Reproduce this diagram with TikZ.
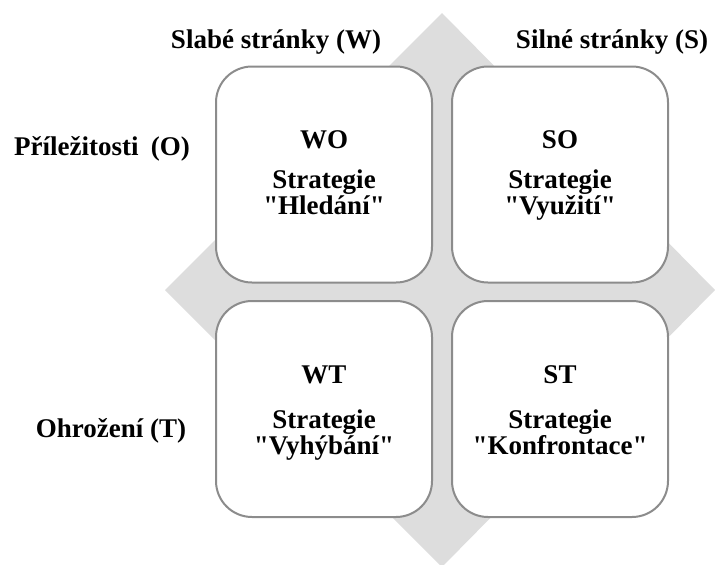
\documentclass[tikz,border=0pt]{standalone}
\usepackage{fontspec}
\setmainfont{Liberation Serif}[Ligatures=TeXOff]
\definecolor{diamondgray}{RGB}{221,221,221}
\definecolor{boxgray}{RGB}{140,140,140}
\begin{document}
\begin{tikzpicture}[x=1pt,y=-1pt,
  lbl/.style={font=\fontsize{27}{23}\selectfont\bfseries, inner sep=0pt, anchor=base, text=black},
  two/.style={lbl, align=center, anchor=base},
  quad/.style={draw=boxgray, line width=2pt, fill=white, rounded corners=36pt,
    minimum width=216pt, minimum height=216pt, inner sep=0pt}]
\useasboundingbox (0,0) rectangle (715,565);
% background diamond
\fill[diamondgray] (442,13) -- (715,290) -- (442,567) -- (165,290) -- cycle;
% quadrants
\node[quad] (wo) at (324,174.5) {};
\node[quad] (so) at (560,174.5) {};
\node[quad] (wt) at (324,409) {};
\node[quad] (st) at (560,409) {};
% axis labels
\node[lbl] (weak) at (276,48) {Slabé stránky (W)};
\node[lbl] (strong) at (612,48) {Silné stránky (S)};
\node[lbl] (opp) at (102,155) {Příležitosti\hspace{0.45em}(O)};
\node[lbl] (thr) at (111,437) {Ohrožení (T)};
% WO
\node[lbl] (wo1) at (324,148) {WO};
\node[two] (wo2) at (324,214) {Strategie\\"Hledání"};
% SO
\node[lbl] (so1) at (560,148) {SO};
\node[two] (so2) at (560,214) {Strategie\\"Využití"};
% WT
\node[lbl] (wt1) at (324,383) {WT};
\node[two] (wt2) at (324,454) {Strategie\\"Vyhýbání"};
% ST
\node[lbl] (st1) at (560,383) {ST};
\node[two] (st2) at (560,454) {Strategie\\"Konfrontace"};
\end{tikzpicture}
\end{document}
